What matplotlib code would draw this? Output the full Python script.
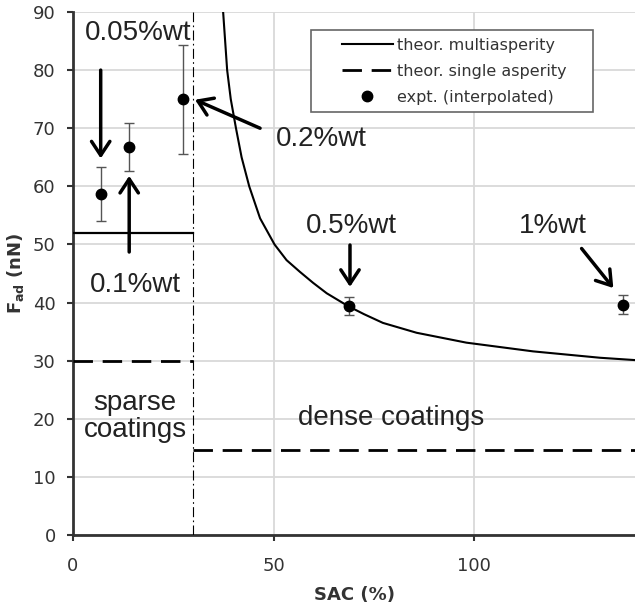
import numpy as np
import matplotlib
matplotlib.use('Agg')
import matplotlib.pyplot as plt
from matplotlib.patches import Rectangle

# experimental points (interpolated)
sac = [6.9, 13.9, 27.3, 68.7, 137.0]
fad = [58.7, 66.8, 75.0, 39.4, 39.6]
fad_err = [4.7, 4.1, 9.35, 1.5, 1.65]

# theoretical multiasperity curve
curve_x = [37.4, 38.4, 39.3, 40.6, 42.0, 43.9, 46.6, 50.2, 53.2, 56.5, 59.8, 63.2,
           68.5, 72.5, 77.2, 85.6, 98.0, 114.6, 131.3, 140.0]
curve_y = [90.0, 80.0, 75.0, 70.0, 65.0, 60.0, 54.5, 50.0, 47.3, 45.3, 43.4, 41.6,
           39.4, 38.0, 36.5, 34.8, 33.1, 31.6, 30.5, 30.1]

# sparse / dense levels
sparse_multi = 52.0
sparse_single = 30.0
dense_single = 14.6
sac_split = 30.0

# labels: text, text position, arrow tail, arrow head
labels = ['0.05%wt', '0.1%wt', '0.2%wt', '0.5%wt', '1%wt']
label_pos = [(16.1, 85.1), (15.5, 41.9), (61.8, 67.0), (69.4, 51.9), (119.6, 51.9)]
arrow_tail = [(6.9, 80.0), (14.0, 48.7), (46.6, 70.0), (69.0, 49.9), (126.7, 49.3)]
arrow_head = [(6.9, 64.8), (14.0, 61.8), (30.4, 74.9), (69.0, 42.7), (134.6, 42.5)]

ann_font = 'Liberation Sans'

fig = plt.figure(figsize=(6.35, 6.08), dpi=100)
ax = fig.add_axes([73/635, 73/608, 562/635, 523/608])

ax.plot(curve_x, curve_y, color='black', lw=1.5, label='theor. multiasperity', zorder=3)
ax.plot([0, sac_split], [sparse_multi, sparse_multi], color='black', lw=1.6, zorder=3)
ax.plot([0, sac_split], [sparse_single, sparse_single], color='black', lw=2.0,
        ls=(0, (7, 3.5)), label='theor. single asperity', zorder=3)
ax.plot([sac_split, 140], [dense_single, dense_single], color='black', lw=2.0,
        ls=(0, (7, 3.5)), zorder=3)
ax.axvline(sac_split, color='black', lw=0.8, ls=(0, (9, 3, 1.5, 3)), zorder=3)

ax.errorbar(sac, fad, yerr=fad_err, fmt='none', ecolor='#555555', elinewidth=1,
            capsize=3.5, capthick=1, zorder=4)
ax.plot(sac, fad, 'o', color='black', ms=7.5, ls='none', label='expt. (interpolated)', zorder=5)

for txt, (tx, ty), tail, head in zip(labels, label_pos, arrow_tail, arrow_head):
    ax.text(tx, ty, txt, fontsize=20, family=ann_font, color='#222222',
            ha='center', va='baseline', zorder=6)
    ax.annotate('', xy=head, xytext=tail,
                arrowprops=dict(arrowstyle='->,head_length=0.5,head_width=0.33',
                                color='black', lw=2.5, mutation_scale=20,
                                shrinkA=0, shrinkB=0), zorder=6)

ax.text(15.5, 16.9, 'sparse\ncoatings', fontsize=20, family=ann_font, color='#222222',
        ha='center', va='baseline', linespacing=1.05)
ax.text(79.2, 18.9, 'dense coatings', fontsize=20, family=ann_font, color='#222222',
        ha='center', va='baseline')

ax.set_xlim(0, 140)
ax.set_ylim(0, 90)
ax.set_xticks([0, 50, 100])
ax.set_yticks(np.arange(0, 91, 10))
ax.grid(True, color='#d9d9d9', lw=1.3)
ax.set_axisbelow(True)
for s in ['top', 'right']:
    ax.spines[s].set_visible(False)
for s in ['left', 'bottom']:
    ax.spines[s].set_color('#333333')
    ax.spines[s].set_linewidth(2)
ax.tick_params(axis='both', direction='out', length=4.5, width=1.5, color='#333333',
               labelsize=13, labelcolor='#333333')
ax.tick_params(axis='y', pad=8)
ax.tick_params(axis='x', pad=11)

ax.set_xlabel('SAC (%)', fontsize=13, fontweight='bold', color='#333333', labelpad=8)
ax.set_ylabel(r'$\mathbf{F_{ad}}$ (nN)', fontsize=13, fontweight='bold', color='#333333',
              labelpad=5)

# legend box drawn separately, wider than its content as in the original
ax.add_patch(Rectangle((0.4235, 0.809), 0.5015, 0.1566, transform=ax.transAxes,
                       facecolor='white', edgecolor='#666666', lw=1.2, zorder=7))
leg = ax.legend(loc='upper left', bbox_to_anchor=(0.478, 0.951), frameon=False,
                fontsize=11.5, handlelength=3.2, handletextpad=0.25,
                labelspacing=0.7, borderpad=0, borderaxespad=0)
leg.set_zorder(8)
for t in leg.get_texts():
    t.set_color('#333333')

fig.savefig('out.png', dpi=100, facecolor='white')
